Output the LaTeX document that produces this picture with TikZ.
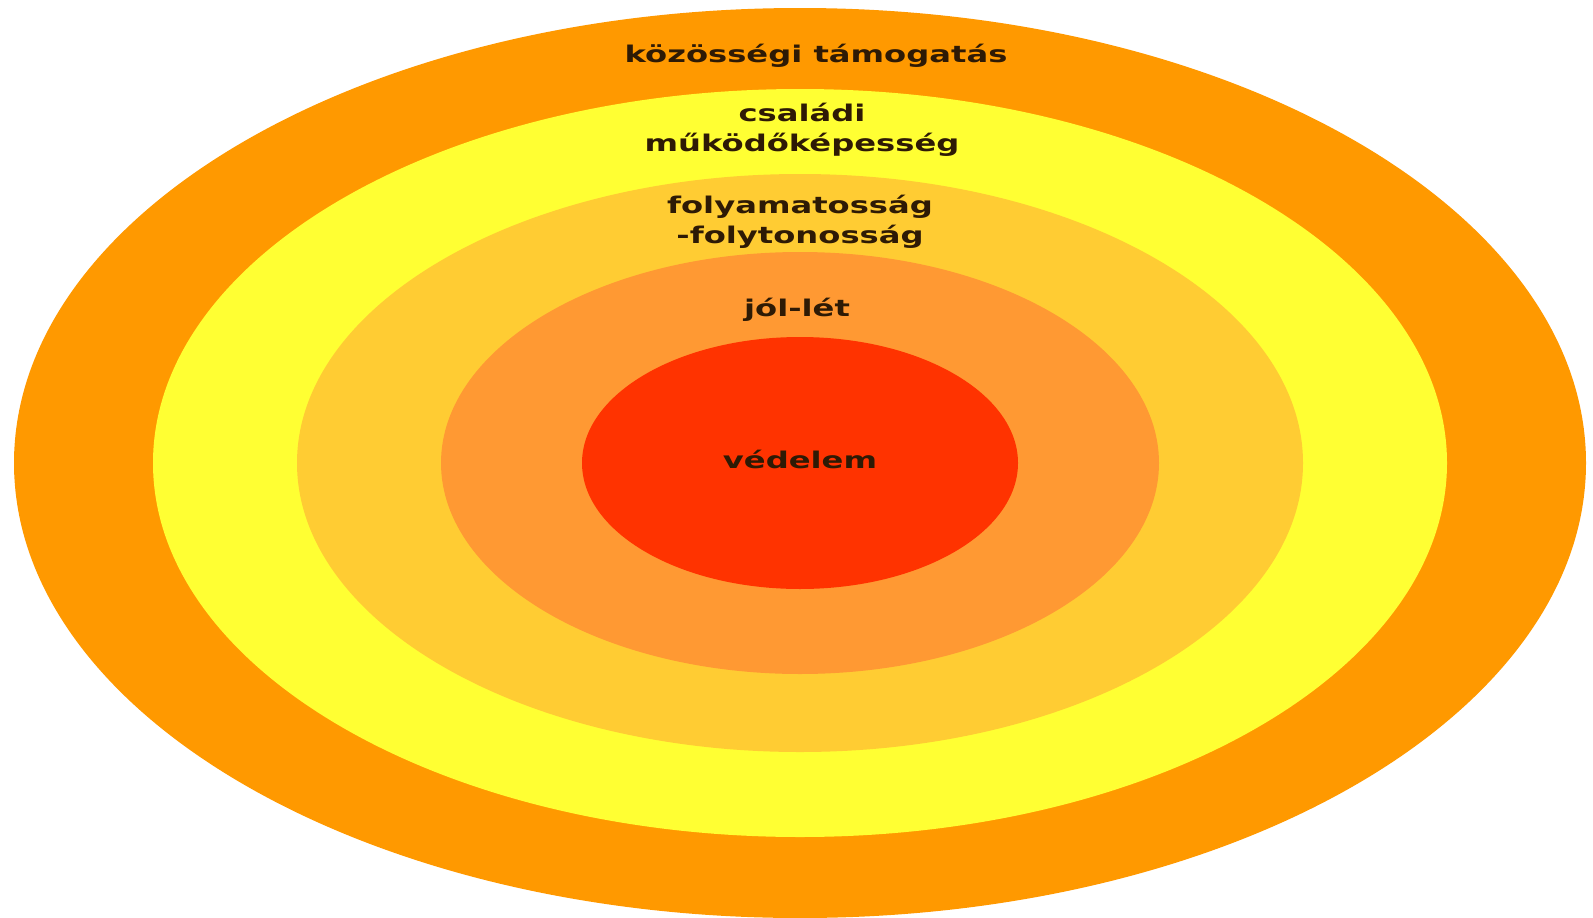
\documentclass[tikz,border=0pt]{standalone}
\usepackage{fontspec}
\newfontfamily\ringfont{DejaVu Sans}

\definecolor{ringout}{HTML}{FF9900}
\definecolor{ringfam}{HTML}{FFFF33}
\definecolor{ringcont}{HTML}{FFCC33}
\definecolor{ringwell}{HTML}{FF9933}
\definecolor{ringcore}{HTML}{FF3300}
\definecolor{inktext}{HTML}{2E1A05}

\newcommand{\wide}[1]{\scalebox{1.4}[1]{#1}}

\begin{document}
\begin{tikzpicture}[x=1pt,y=-1pt,
  lbl/.style={font={\ringfont\bfseries\fontsize{23}{30}\selectfont},text=inktext,align=center,inner sep=0pt,anchor=base}]
  \useasboundingbox[fill=white] (0,0) rectangle (1593,918);
  \coordinate (c) at (800,463);
  % rings, outside in
  \foreach \rx/\ry/\col in {786/455/ringout,647/374/ringfam,503/289/ringcont,359/211/ringwell,218/126/ringcore}
    \fill[\col] (c) ellipse ({\rx} and {\ry});
  \node[lbl] (kozosseg) at (816,62) {\wide{közösségi támogatás}};
  \node[lbl] (csalad) at (802,151) {\wide{családi}\\\wide{működőképesség}};
  \node[lbl] (folyam) at (800,243) {\wide{folyamatosság}\\\wide{-folytonosság}};
  \node[lbl] (jollet) at (797,316) {\wide{jól-lét}};
  \node[lbl] (vedelem) at (800,468) {\wide{védelem}};
\end{tikzpicture}
\end{document}
